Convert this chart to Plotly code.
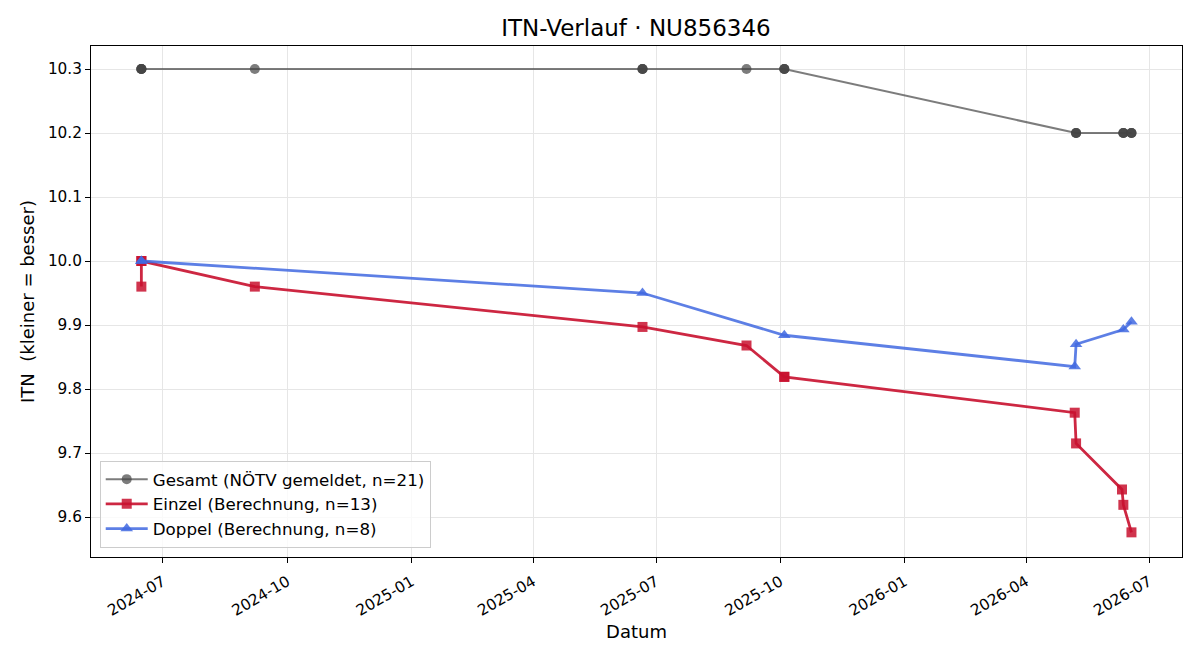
import plotly.graph_objects as go

# Gesamt (NÖTV gemeldet), n=21
ges_dates = ["2024-06-15"] * 4 + ["2024-09-07"] + ["2025-06-21"] * 3 + ["2025-09-06"] + \
            ["2025-10-04"] * 3 + ["2026-05-08"] * 3 + ["2026-06-12"] * 3 + ["2026-06-18"] * 3
ges_vals = [10.3] * 4 + [10.3] + [10.3] * 3 + [10.3] + [10.3] * 3 + [10.2] * 3 + [10.2] * 3 + [10.2] * 3

# Einzel (Berechnung), n=13
ein_dates = ["2024-06-15", "2024-06-15", "2024-06-15", "2024-09-07", "2025-06-21", "2025-09-06",
             "2025-10-04", "2025-10-04", "2026-05-07", "2026-05-08", "2026-06-11", "2026-06-12", "2026-06-18"]
ein_vals = [9.96, 10.0, 10.0, 9.96, 9.897, 9.868, 9.819, 9.819, 9.763, 9.715, 9.643, 9.619, 9.576]

# Doppel (Berechnung), n=8
dop_dates = ["2024-06-15", "2024-06-15", "2025-06-21", "2025-10-04", "2026-05-07", "2026-05-08",
             "2026-06-12", "2026-06-18"]
dop_vals = [10.0, 10.0, 9.95, 9.884, 9.835, 9.870, 9.893, 9.905]

x_ticks = ["2024-07-01", "2024-10-01", "2025-01-01", "2025-04-01", "2025-07-01",
           "2025-10-01", "2026-01-01", "2026-04-01", "2026-07-01"]
x_ticktext = ["2024-07", "2024-10", "2025-01", "2025-04", "2025-07",
              "2025-10", "2026-01", "2026-04", "2026-07"]
y_ticks = [9.6, 9.7, 9.8, 9.9, 10.0, 10.1, 10.2, 10.3]

FONT = "DejaVu Sans, sans-serif"

fig = go.Figure()
fig.add_trace(go.Scatter(
    x=ges_dates, y=ges_vals, mode="lines+markers",
    name="Gesamt (NÖTV gemeldet, n=21)",
    line=dict(color="rgba(68,68,68,0.7)", width=2),
    marker=dict(symbol="circle", size=10, color="rgba(68,68,68,0.7)",
                line=dict(width=0)),
))
fig.add_trace(go.Scatter(
    x=ein_dates, y=ein_vals, mode="lines+markers",
    name="Einzel (Berechnung, n=13)",
    line=dict(color="rgba(200,16,46,0.9)", width=2.8),
    marker=dict(symbol="square", size=10, color="rgba(200,16,46,0.85)",
                line=dict(width=0)),
))
fig.add_trace(go.Scatter(
    x=dop_dates, y=dop_vals, mode="lines+markers",
    name="Doppel (Berechnung, n=8)",
    line=dict(color="rgba(65,105,225,0.85)", width=2.8),
    marker=dict(symbol="triangle-up", size=11, color="rgba(65,105,225,0.85)",
                line=dict(width=0)),
))

fig.update_layout(
    width=1200, height=660,
    margin=dict(l=91, r=18, t=46, b=103),
    paper_bgcolor="white", plot_bgcolor="white",
    font=dict(family=FONT, size=15, color="black"),
    title=dict(text="ITN-Verlauf · NU856346", x=0.53, xanchor="center",
               y=0.957, yanchor="middle", font=dict(size=23, family=FONT)),
    showlegend=True,
    legend=dict(x=0.008, y=0.018, xanchor="left", yanchor="bottom",
                bgcolor="rgba(255,255,255,0.8)", bordercolor="#cccccc", borderwidth=1,
                font=dict(size=16.7, family=FONT), tracegroupgap=0,
                itemwidth=42),
)
fig.update_xaxes(
    type="date",
    range=["2024-05-08 17:00", "2026-07-25 10:00"],
    tickvals=x_ticks, ticktext=x_ticktext, tickangle=-30,
    showgrid=True, gridcolor="#e6e6e6", gridwidth=1,
    showline=True, linecolor="black", linewidth=1, mirror=True,
    ticks="outside", ticklen=5, tickcolor="black",
    ticklabelstandoff=4,
    tickfont=dict(size=15.3, family=FONT),
    title=dict(text="Datum", font=dict(size=18, family=FONT), standoff=6),
    zeroline=False,
)
fig.update_yaxes(
    range=[9.5375, 10.336],
    tickvals=y_ticks, ticktext=[f"{v:.1f}" for v in y_ticks],
    showgrid=True, gridcolor="#e6e6e6", gridwidth=1,
    showline=True, linecolor="black", linewidth=1, mirror=True,
    ticks="outside", ticklen=5, tickcolor="black",
    tickfont=dict(size=15.3, family=FONT),
    title=dict(text="ITN\u00a0\u00a0(kleiner = besser)", font=dict(size=18, family=FONT), standoff=8),
    zeroline=False,
)

fig.write_html("out.html")
